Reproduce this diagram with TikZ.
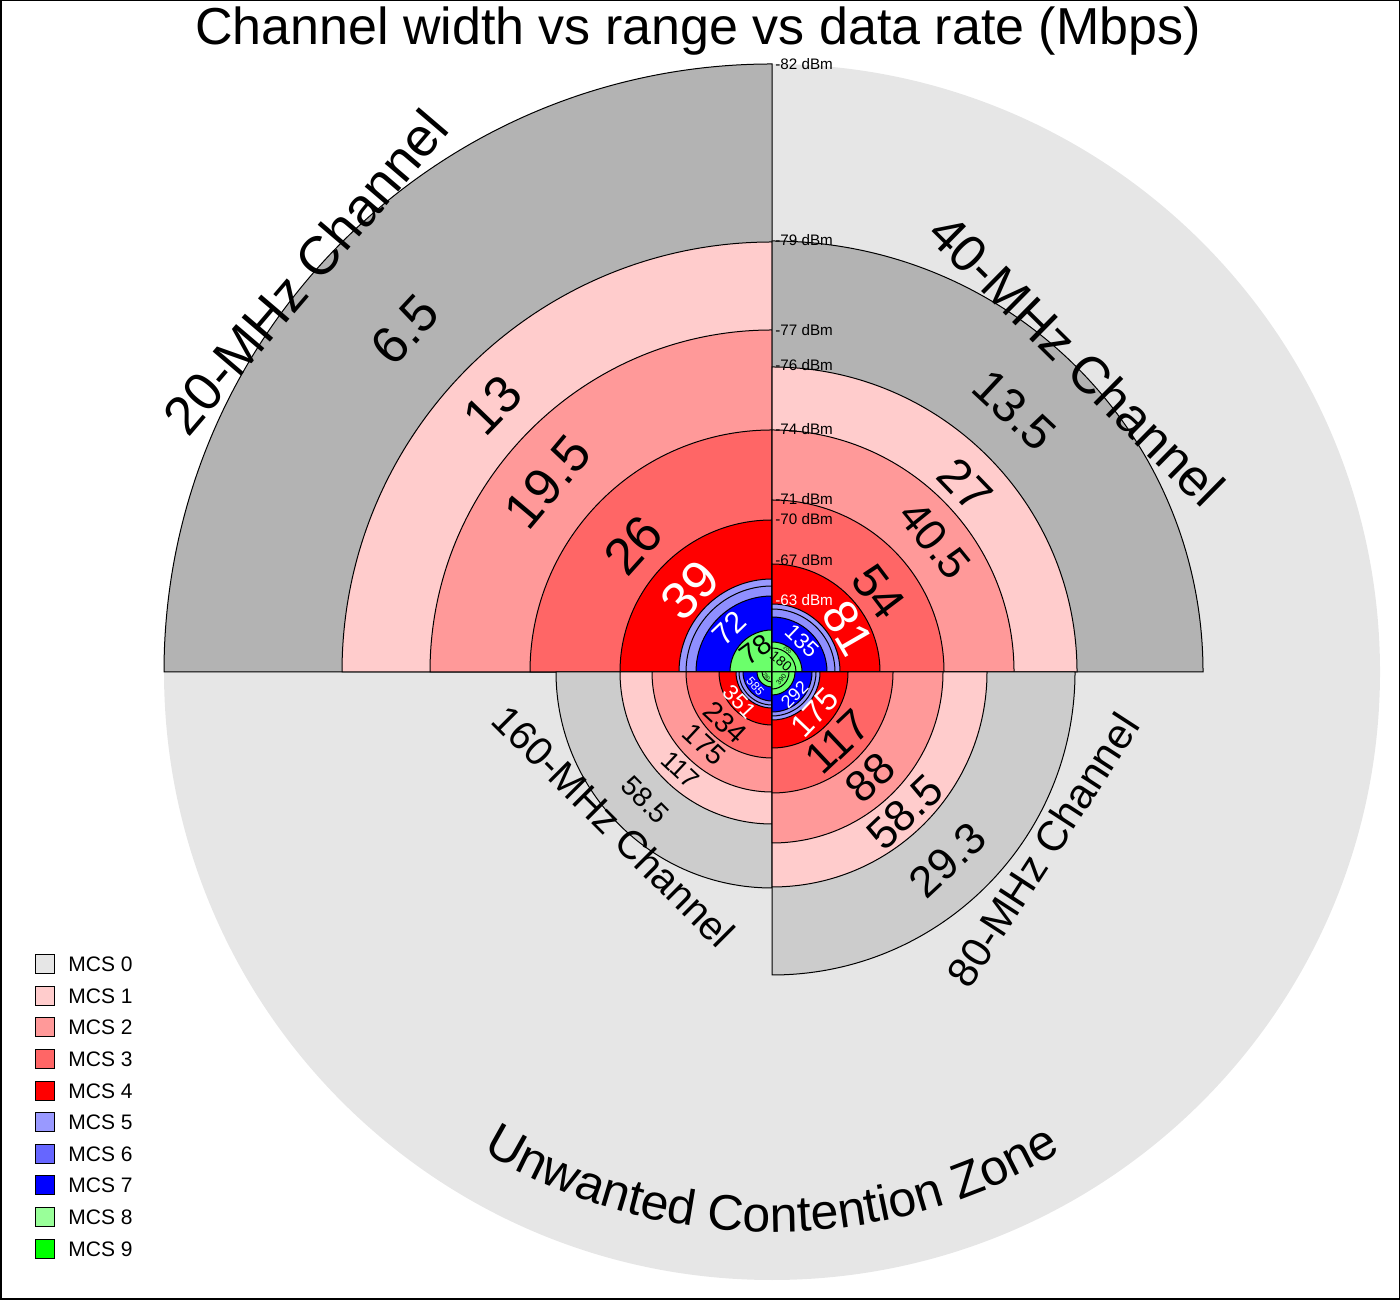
\documentclass[tikz,border=0pt]{standalone}
\usepackage{fontspec}
\setmainfont{Liberation Sans}
\usetikzlibrary{decorations.text}
\definecolor{mzero}{HTML}{E6E6E6}
\definecolor{mone}{HTML}{FFCCCC}
\definecolor{mtwo}{HTML}{FF9999}
\definecolor{mthree}{HTML}{FF6666}
\definecolor{mfour}{HTML}{FF0000}
\definecolor{mfive}{HTML}{9999FF}
\definecolor{msix}{HTML}{6666FF}
\definecolor{mseven}{HTML}{0000FF}
\definecolor{meight}{HTML}{99FF99}
\definecolor{mnine}{HTML}{00FF00}
\definecolor{darkg}{HTML}{B3B3B3}
\definecolor{midg}{HTML}{CCCCCC}
\newcommand{\sect}[3]{\filldraw[fill=#3,draw=black,line width=0.5pt] (c) -- ++(#1:#2) arc[start angle=#1,end angle=#1+90,radius=#2] -- cycle;}
\newcommand{\lbl}[6]{\path (c) ++(#1:#2) node[rotate=#3,inner sep=0pt,text=#5,font=\fontsize{#4}{#4}\selectfont] {#6};}
\newcommand{\dbm}[3][black]{\node[anchor=west,inner sep=0pt,text=#1,font=\fontsize{7.6}{8}\selectfont] at (775,#2) {#3};}
\begin{document}
\begin{tikzpicture}[x=0.5pt,y=0.5pt]
\useasboundingbox (0,0) rectangle (1400,1299);
\draw[line width=1pt] (0.5,0.5) rectangle (1399.5,1298.5);
\coordinate (c) at (772,627);
\fill[mzero] (c) circle[radius=608];
% 20 MHz (90-180)
\sect{90}{608}{darkg}\sect{90}{430}{mone}\sect{90}{342}{mtwo}\sect{90}{242}{mthree}\sect{90}{152}{mfour}
\sect{90}{93}{mfive}\sect{90}{86}{mfive!80!msix}\sect{90}{76}{mseven}\sect{90}{42}{meight!70!mnine}
% 40 MHz (0-90)
\sect{0}{431}{darkg}\sect{0}{305}{mone}\sect{0}{242}{mtwo}\sect{0}{172}{mthree}\sect{0}{108}{mfour}
\sect{0}{68}{mfive}\sect{0}{63}{mfive!80!msix}\sect{0}{55}{mseven}\sect{0}{30}{meight!70!mnine}\sect{0}{24}{meight!70!mnine}
% 160 MHz (180-270)
\sect{180}{216}{midg}\sect{180}{152}{mone}\sect{180}{120}{mtwo}\sect{180}{86}{mthree}\sect{180}{53}{mfour}
\sect{180}{36}{mfive}\sect{180}{33}{mfive!80!msix}\sect{180}{29}{mseven}\sect{180}{15}{meight!70!mnine}\sect{180}{10}{meight!70!mnine}
% 80 MHz (270-360)
\sect{270}{303}{midg}\sect{270}{215}{mone}\sect{270}{171}{mtwo}\sect{270}{121}{mthree}\sect{270}{76}{mfour}
\sect{270}{48}{mfive}\sect{270}{44}{mfive!80!msix}\sect{270}{40}{mseven}\sect{270}{23}{meight!70!mnine}\sect{270}{17}{meight!70!mnine}
% labels 20
\lbl{137}{502}{47}{26}{black}{6.5}
\lbl{136.3}{386}{46}{26}{black}{13}
\lbl{139.7}{294}{50}{26}{black}{19.5}
\lbl{137.6}{188}{48}{26}{black}{26}
\lbl{135}{116}{45}{26}{white}{39}
\lbl{134}{61}{44}{15}{white}{72}
\lbl{126}{28}{36}{14}{black}{78}
% labels 40
\lbl{47.2}{357}{-43}{24}{black}{13.5}
\lbl{44.1}{269}{-46}{24}{black}{27}
\lbl{39}{210}{-51}{22}{black}{40.5}
\lbl{37}{133}{-53}{24}{black}{54}
\lbl{30}{88}{-60}{24}{white}{81}
\lbl{46}{43}{-44}{11}{white}{135}
\lbl{50}{14}{-40}{7}{black}{180}
\lbl{55}{27}{-35}{2.5}{black}{200}
% labels 80
\lbl{-47}{257}{43}{22}{black}{29.3}
\lbl{-46.5}{193}{43.5}{22}{black}{58.5}
\lbl{-47}{144}{43}{22}{black}{88}
\lbl{-46.7}{96}{43.3}{22}{black}{117}
\lbl{-43.6}{59}{46.4}{16}{white}{175}
\lbl{-45}{32}{45}{9}{white}{292}
\lbl{-40}{12}{50}{3.5}{black}{390}
% labels 160
\lbl{225.2}{180}{315}{14}{black}{58.5}
\lbl{226.8}{134}{317}{13}{black}{117}
\lbl{227}{99}{317}{14}{black}{175}
\lbl{227}{69}{317}{14}{black}{234}
\lbl{223}{44}{313}{11}{white}{351}
\lbl{221}{22}{311}{6}{white}{585}
\lbl{219}{7}{309}{2.5}{black}{780}
% dBm labels
\dbm{1235}{-82 dBm}
\dbm{1059}{-79 dBm}
\dbm{969}{-77 dBm}
\dbm{934}{-76 dBm}
\dbm{870}{-74 dBm}
\dbm{800}{-71 dBm}
\dbm{780}{-70 dBm}
\dbm{739}{-67 dBm}
\dbm[white]{699}{-63 dBm}
% channel labels
\node[rotate=49.5,font=\fontsize{27}{28}\selectfont] (l20) at (305,1027) {20-MHz Channel};
\node[rotate=-44.6,font=\fontsize{26}{28}\selectfont] (l40) at (1077,939) {40-MHz Channel};
\node[rotate=57,font=\fontsize{21}{22}\selectfont] (l80) at (1043,449) {80-MHz Channel};
\node[rotate=-45,font=\fontsize{20}{22}\selectfont] (l160) at (614,473) {160-MHz Channel};
% unwanted zone
\path[decorate,decoration={text along path,text align=center,
  text={|\fontsize{25}{26}\selectfont|Unwanted Contention Zone}}]
  (c) ++(238:560) arc[start angle=238,end angle=302,radius=560];
% title
\node[font=\fontsize{26}{28}\selectfont] (title) at (698,1268) {Channel width vs range vs data rate (Mbps)};
% legend
\foreach \i/\col/\yy in {0/mzero/335,1/mone/303,2/mtwo/272,3/mthree/240,4/mfour/208,5/mfive/177,6/msix/145,7/mseven/114,8/meight/82,9/mnine/50}{
  \node[draw=black,fill=\col,minimum size=9.5pt,inner sep=0pt,line width=0.4pt] (lg\i) at (45,\yy) {};
  \node[anchor=west,inner sep=0pt,font=\fontsize{10.5}{11}\selectfont] (lt\i) at (68,\yy) {MCS \i};
}
\end{tikzpicture}
\end{document}
